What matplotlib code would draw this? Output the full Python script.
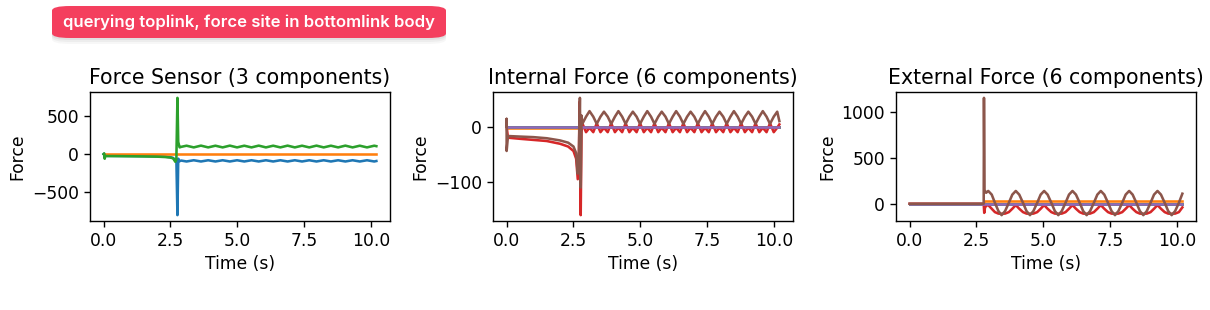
import matplotlib.pyplot as plt
from matplotlib.patches import FancyBboxPatch

# ---- Force sensor (3 components) ----
fs_pre_t = [0.0, 0.02, 0.04, 0.06, 0.5, 1.0, 1.5, 2.0, 2.3, 2.5, 2.6, 2.68, 2.72, 2.76, 2.79, 2.84]
fs_blue_pre = [0, 5, -40, -22, -23, -24, -26, -29, -33, -40, -50, -80, -60, -797, -60, -92]
fs_green_pre = [0, 10, -60, -25, -26, -28, -30, -33, -38, -45, -55, -100, -70, 735, 160, 88]
fs_wave_t = [2.90, 3.10, 3.37, 3.64, 3.91, 4.18, 4.45, 4.72, 4.99, 5.26, 5.53, 5.80, 6.07,
             6.34, 6.61, 6.88, 7.15, 7.42, 7.69, 7.96, 8.23, 8.50, 8.77, 9.04, 9.31, 9.58,
             9.85, 10.12, 10.20]
fs_green_wave = [95, 110, 88, 111, 88, 110, 88, 111, 88, 110, 88, 111, 88, 110, 88, 111,
                 88, 110, 88, 111, 88, 110, 88, 111, 88, 110, 88, 110, 104]
fs_blue_wave = [-84, -96, -80, -96, -80, -96, -80, -96, -80, -96, -80, -96, -80, -96, -80,
                -96, -80, -96, -80, -96, -80, -96, -80, -96, -80, -96, -80, -96, -90]
fs_orange_t = [0.0, 10.2]
fs_orange = [0, 0]

# ---- Internal force (6 components) ----
if_flat_t = [0.0, 10.2]
if_zero = [0, 0]
if_orange_t = [0.0, 2.75, 2.75, 10.2]
if_orange = [-3, -3, 0, 0]
if_red_pre_t = [0.0, 0.05, 0.5, 1.0, 1.5, 2.0, 2.3, 2.5, 2.6, 2.66, 2.70, 2.73, 2.77, 2.80]
if_red_pre = [0, -20, -22, -24, -26, -31, -36, -44, -58, -95, -60, 45, -160, -10]
if_brown_pre_t = [0.0, 0.0, 0.0, 0.05, 0.5, 1.0, 1.5, 2.0, 2.3, 2.5, 2.6, 2.66, 2.70,
                  2.74, 2.77, 2.80]
if_brown_pre = [0, 14, -44, -17, -18, -19, -21, -25, -29, -36, -48, -85, -60, 52, -110, 20]
if_wave_t = [2.83, 2.97, 3.10, 3.24, 3.37, 3.51, 3.64, 3.78, 3.91, 4.05, 4.18, 4.32, 4.45,
             4.59, 4.72, 4.86, 4.99, 5.13, 5.26, 5.40, 5.53, 5.67, 5.80, 5.94, 6.07, 6.21,
             6.34, 6.48, 6.61, 6.75, 6.88, 7.02, 7.15, 7.29, 7.42, 7.56, 7.69, 7.83, 7.96,
             8.10, 8.23, 8.37, 8.50, 8.64, 8.77, 8.91, 9.04, 9.18, 9.31, 9.45, 9.58, 9.72,
             9.85, 9.99, 10.12, 10.20]
if_brown_wave = [5, 18, 28, 18, 5, 18, 27, 18, 5, 18, 28, 18, 5, 18, 27, 18, 5, 18, 28, 18,
                 5, 18, 27, 18, 5, 18, 28, 18, 5, 18, 27, 18, 5, 18, 28, 18, 5, 18, 27, 18,
                 5, 18, 28, 18, 5, 18, 27, 18, 5, 18, 28, 18, 5, 18, 27, 10]
if_red_wave = [6, -10, -2, -10, 6, -10, -2, -10, 6, -10, -2, -10, 6, -10, -2, -10, 6, -10,
               -2, -10, 6, -10, -2, -10, 6, -10, -2, -10, 6, -10, -2, -10, 6, -10, -2, -10,
               6, -10, -2, -10, 6, -10, -2, -10, 6, -10, -2, -10, 6, -10, -2, -10, 6, -10,
               -2, 4]

# ---- External force (6 components) ----
ef_flat_t = [0.0, 10.2]
ef_zero = [0, 0]
ef_step_t = [0.0, 2.78, 2.78, 10.2]
ef_orange = [0, 0, 25, 25]
ef_purple = [0, 0, -8, -8]
ef_red_pre_t = [0.0, 2.77, 2.79, 2.82, 2.88]
ef_red_pre = [0, 0, -100, -40, -20]
ef_brown_pre_t = [0.0, 2.77, 2.78, 2.80, 2.86]
ef_brown_pre = [0, 0, 1160, 150, 120]
ef_wave_t = [2.94, 3.07, 3.19, 3.32, 3.44, 3.57, 3.71, 3.84, 3.97, 4.10, 4.24, 4.37, 4.50,
             4.63, 4.77, 4.90, 5.03, 5.16, 5.30, 5.43, 5.56, 5.69, 5.83, 5.96, 6.09, 6.22,
             6.36, 6.49, 6.62, 6.75, 6.89, 7.02, 7.15, 7.28, 7.42, 7.55, 7.68, 7.81, 7.95,
             8.08, 8.21, 8.34, 8.48, 8.61, 8.74, 8.87, 9.01, 9.14, 9.27, 9.40, 9.54, 9.67,
             9.80, 9.93, 10.07, 10.20]
ef_brown_wave = [140, 100, 10, -80, -125, -80, 10, 100, 140, 100, 10, -80, -125, -80, 10,
                 100, 140, 100, 10, -80, -125, -80, 10, 100, 140, 100, 10, -80, -125, -80,
                 10, 100, 140, 100, 10, -80, -125, -80, 10, 100, 140, 100, 10, -80, -125,
                 -80, 10, 100, 140, 100, 10, -80, -125, -80, 10, 110]
ef_red_wave = [-15, -55, -92, -108, -110, -108, -92, -55, -15, -55, -92, -108, -110, -108,
               -92, -55, -15, -55, -92, -108, -110, -108, -92, -55, -15, -55, -92, -108,
               -110, -108, -92, -55, -15, -55, -92, -108, -110, -108, -92, -55, -15, -55,
               -92, -108, -110, -108, -92, -55, -15, -55, -92, -108, -110, -108, -92, -40]

plt.rcParams.update({
    'font.size': 12.3,
    'axes.titlesize': 14.8,
    'axes.labelsize': 12.3,
    'lines.linewidth': 1.85,
    'axes.linewidth': 1.0,
    'xtick.major.size': 4.3,
    'ytick.major.size': 4.3,
    'xtick.major.width': 1.0,
    'ytick.major.width': 1.0,
})

fig = plt.figure(figsize=(12.1, 3.1), dpi=100)

# badge label at the top, with a soft shadow
for off, alpha in ((6, 0.03), (4, 0.04), (2, 0.05)):
    shadow = FancyBboxPatch((52 / 1210, 1 - (38 + off) / 310), 394 / 1210, 32 / 310,
                            boxstyle='round,pad=0,rounding_size=0.015',
                            transform=fig.transFigure, fc='black', ec='none', alpha=alpha)
    fig.patches.append(shadow)
badge = FancyBboxPatch((52 / 1210, 1 - 38 / 310), 394 / 1210, 32 / 310,
                       boxstyle='round,pad=0,rounding_size=0.015',
                       transform=fig.transFigure, fc='#F43F5E', ec='none')
fig.patches.append(badge)
fig.text(249 / 1210, 1 - 22 / 310, 'querying toplink, force site in bottomlink body',
         ha='center', va='center', color='white', fontsize=12, fontweight='semibold',
         family=['Inter', 'DejaVu Sans'])

ax1 = fig.add_axes([90 / 1210, 1 - 221 / 310, 300 / 1210, 129 / 310])
ax2 = fig.add_axes([493 / 1210, 1 - 221 / 310, 300 / 1210, 129 / 310])
ax3 = fig.add_axes([896 / 1210, 1 - 221 / 310, 300 / 1210, 129 / 310])

ax1.plot(fs_pre_t + fs_wave_t, fs_blue_pre + fs_blue_wave, color='C0')
ax1.plot(fs_orange_t, fs_orange, color='C1')
ax1.plot(fs_pre_t + fs_wave_t, fs_green_pre + fs_green_wave, color='C2')
ax1.set_title('Force Sensor (3 components)')

ax2.plot(if_flat_t, if_zero, color='C0')
ax2.plot(if_orange_t, if_orange, color='C1')
ax2.plot(if_flat_t, if_zero, color='C2')
ax2.plot(if_red_pre_t + if_wave_t, if_red_pre + if_red_wave, color='C3')
ax2.plot(if_flat_t, if_zero, color='C4')
ax2.plot(if_brown_pre_t + if_wave_t, if_brown_pre + if_brown_wave, color='C5')
ax2.set_title('Internal Force (6 components)')

ax3.plot(ef_flat_t, ef_zero, color='C0')
ax3.plot(ef_step_t, ef_orange, color='C1')
ax3.plot(ef_flat_t, ef_zero, color='C2')
ax3.plot(ef_red_pre_t + ef_wave_t, ef_red_pre + ef_red_wave, color='C3')
ax3.plot(ef_step_t, ef_purple, color='C4')
ax3.plot(ef_brown_pre_t + ef_wave_t, ef_brown_pre + ef_brown_wave, color='C5')
ax3.set_title('External Force (6 components)')

for ax in (ax1, ax2, ax3):
    ax.set_xlabel('Time (s)')
    ax.set_ylabel('Force')
    ax.set_xticks([0, 2.5, 5, 7.5, 10])

fig.savefig('out.png', dpi=100)
